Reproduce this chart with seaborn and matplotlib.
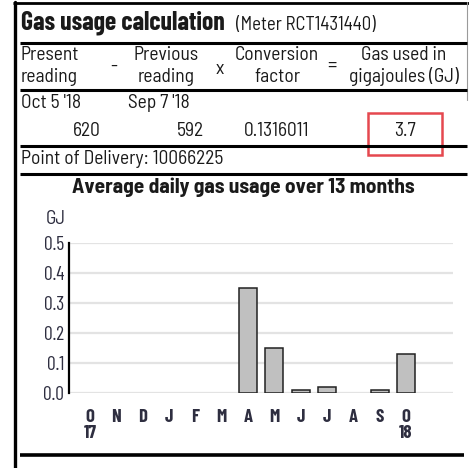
import matplotlib
matplotlib.use("Agg")
import matplotlib.pyplot as plt
from matplotlib.lines import Line2D
from matplotlib.patches import Rectangle
import pandas as pd
import seaborn as sns

W, H = 469, 468

months = ["Oct 17", "Nov 17", "Dec 17", "Jan 18", "Feb 18", "Mar 18", "Apr 18",
          "May 18", "Jun 18", "Jul 18", "Aug 18", "Sep 18", "Oct 18"]
usage_gj = [0, 0, 0, 0, 0, 0, 0.35, 0.15, 0.01, 0.02, 0, 0.01, 0.13]
tick_labels = ["O\n17", "N", "D", "J", "F", "M", "A", "M", "J", "J", "A", "S", "O\n18"]
y_ticks = [0.0, 0.1, 0.2, 0.3, 0.4, 0.5]

meter = "RCT1431440"
present_date, previous_date = "Oct 5 '18", "Sep 7 '18"
present_reading, previous_reading = 620, 592
conversion_factor = "0.1316011"
gas_used = 3.7
delivery_point = "10066225"

sns.set_theme(style="white")
plt.rcParams["font.family"] = ["Barlow Semi Condensed", "Barlow Condensed", "DejaVu Sans"]
NARROW = ["Barlow Condensed", "DejaVu Sans"]

INK = "#1a1a1a"
NAVY = "#2e2e40"


def fx(x):
    return x / W


def fy(y):
    return 1 - y / H


def hline(fig, y, x0=14, x1=467, lw=2.2, color="black"):
    fig.add_artist(Line2D([fx(x0), fx(x1)], [fy(y), fy(y)], lw=lw, color=color,
                          transform=fig.transFigure, solid_capstyle="butt"))


def text(fig, x, y, s, **kw):
    kw.setdefault("color", INK)
    kw.setdefault("va", "center")
    kw.setdefault("fontsize", 14)
    fig.text(fx(x), fy(y), s, **kw)


fig = plt.figure(figsize=(W / 100, H / 100), dpi=100)

# frame
fig.add_artist(Line2D([fx(14.5), fx(14.5)], [fy(2), fy(468)], lw=2.4, color="black",
                      transform=fig.transFigure))
hline(fig, 3, x0=13, x1=469, lw=2)
fig.add_artist(Line2D([fx(467), fx(467)], [fy(2), fy(100)], lw=0.8, color="#9a9a9a",
                      transform=fig.transFigure))

# calculation table
text(fig, 21, 23, "Gas usage calculation", fontsize=18.5, fontweight="bold", family=NARROW)
text(fig, 236, 25, f"(Meter {meter})", fontsize=13.5)
hline(fig, 43, x0=20)
text(fig, 21, 55, "Present", ha="left")
text(fig, 21, 77, "reading", ha="left")
text(fig, 114, 67, "-", ha="center")
text(fig, 166, 55, "Previous", ha="center")
text(fig, 166, 77, "reading", ha="center")
text(fig, 220, 69, "x", ha="center")
text(fig, 277, 55, "Conversion", ha="center")
text(fig, 277, 77, "factor", ha="center")
text(fig, 332, 66, "=", ha="center")
text(fig, 404, 55, "Gas used in", ha="center")
text(fig, 404, 77, "gigajoules (GJ)", ha="center")
hline(fig, 90, x0=20)
text(fig, 21, 103, present_date, ha="left")
text(fig, 128, 103, previous_date, ha="left")
text(fig, 101, 131, f"{present_reading}", ha="right")
text(fig, 204, 131, f"{previous_reading}", ha="right")
text(fig, 277, 131, conversion_factor, ha="center")
text(fig, 405, 131, f"{gas_used}", ha="center")
hline(fig, 146, x0=20)
fig.add_artist(Rectangle((fx(368), fy(155)), fx(74), 42 / H, transform=fig.transFigure,
                         fill=False, lw=1.8, edgecolor="#e5484f"))
text(fig, 21, 159, f"Point of Delivery: {delivery_point}", ha="left")
hline(fig, 174, x0=20)

# chart
text(fig, 243, 187, "Average daily gas usage over 13 months", ha="center",
     fontsize=15.4, fontweight="bold")
text(fig, 56, 219, "GJ", ha="center", color=NAVY)

df = pd.DataFrame({"month": months, "usage": usage_gj})
ax = fig.add_axes([fx(69), fy(393), 384 / W, 150 / H])
sns.barplot(data=df, x="month", y="usage", order=months, color="#c0c0c0",
            edgecolor="#222222", linewidth=1.1, width=0.68, saturation=1, ax=ax)
for bar, val in zip(ax.patches, usage_gj):
    if val == 0:
        bar.set_linewidth(0)

ax.set_xlim(-0.8, 13.79)
ax.set_ylim(0, 0.5)
ax.set_yticks(y_ticks)
ax.set_yticklabels([f"{v:.1f}" for v in y_ticks], fontsize=14, color=NAVY, family=NARROW)
ax.set_xticks(range(len(months)))
ax.set_xticklabels(tick_labels, fontsize=13.5, fontweight="bold", color=NAVY,
                   linespacing=0.95, va="top", family=NARROW)
ax.set_xlabel("")
ax.set_ylabel("")
ax.yaxis.grid(True, color="#e3e3e3", lw=1.6)
ax.set_axisbelow(True)
ax.tick_params(axis="x", length=8.5, width=1.8, color="black", pad=3, direction="out")
ax.tick_params(axis="y", length=0, pad=3.5)
for side in ["top", "right", "bottom"]:
    ax.spines[side].set_visible(False)
ax.spines["left"].set_color("black")
ax.spines["left"].set_linewidth(1.6)

hline(fig, 455, x0=20, x1=464, lw=2.6)

fig.savefig("out.png", dpi=100)
